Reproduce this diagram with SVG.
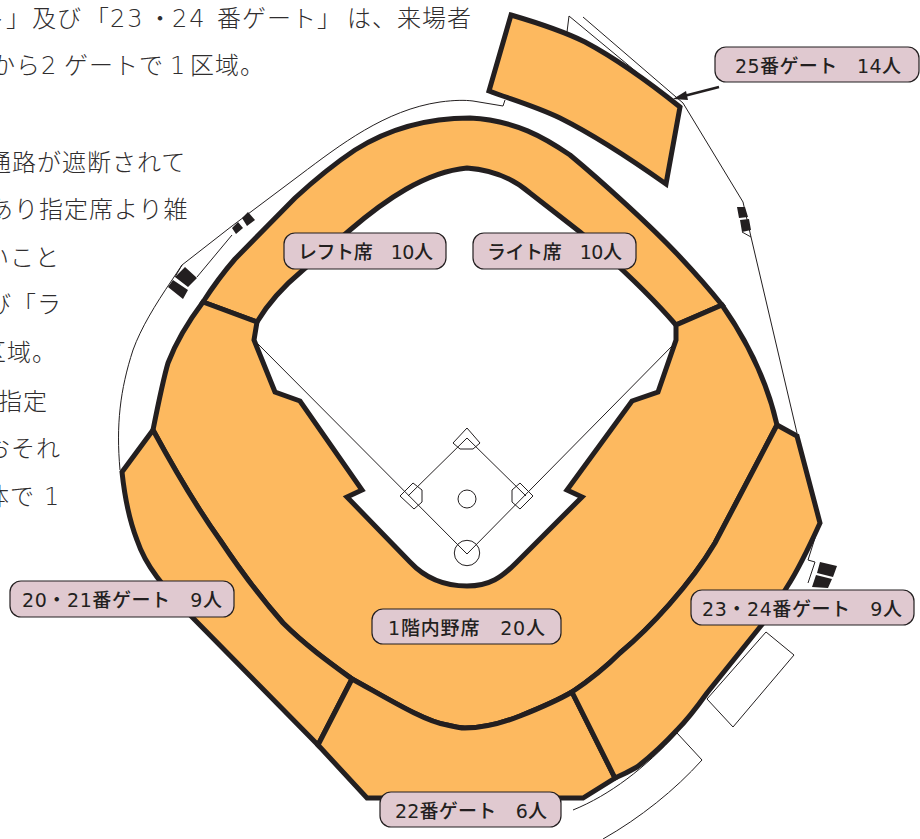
<svg xmlns="http://www.w3.org/2000/svg" width="920" height="839" viewBox="0 0 920 839">
<style>
.t{font-family:"Noto Sans CJK JP","Noto Sans",sans-serif;font-size:24px;font-weight:300;fill:#2f2d2e;letter-spacing:1px}
.d{font-family:"DejaVu Sans","Noto Sans CJK JP",sans-serif;font-weight:200;letter-spacing:2px}
.s{fill:#fdb95f;stroke:#231f20;stroke-width:5;stroke-linejoin:miter}
.l{fill:none;stroke:#231f20;stroke-width:1}
.w{fill:#fff;stroke:#231f20;stroke-width:1}
.b{fill:#231f20}
.p{fill:#e0c9d0;stroke:#231f20;stroke-width:1.2}
.c{font-family:"DejaVu Sans","Noto Sans CJK JP",sans-serif;font-size:19px;font-weight:500;fill:#231f20}
</style>
<g id="copy">
<text class="t" y="26.5"><tspan x="-19">ト」</tspan><tspan x="32">及び</tspan><tspan x="85">「</tspan><tspan class="d" x="110">23</tspan><tspan x="148">・</tspan><tspan class="d" x="172">24</tspan><tspan x="217">番ゲート」</tspan><tspan x="347">は、来場者</tspan></text>
<text class="t" y="74"><tspan x="-9">から</tspan><tspan class="d" x="41">2</tspan><tspan x="64">ゲートで</tspan><tspan class="d" x="170">1</tspan><tspan x="190">区域。</tspan></text>
<text class="t" x="-13" y="171">通路が遮断されて</text>
<text class="t" x="-11" y="218">あり指定席より雑</text>
<text class="t" x="-15" y="266">いこと</text>
<text class="t" x="-13" y="313">び「ラ</text>
<text class="t" x="-18" y="361">区域。</text>
<text class="t" x="-2" y="410">指定</text>
<text class="t" x="-14" y="457">おそれ</text>
<text class="t" y="505"><tspan x="-15">体で</tspan><tspan class="d" x="44">1</tspan></text>
</g>
<g id="site-lines">
<path class="l" d="M120,470C116,425 120,390 133,350C141,328 155,305 172,280L182,265L232,226L300,175C340,145 385,110 440,102C455,100 465,100 473,101L503,106L505,100"/>
<path class="l" d="M175,277L182,265M197,277L232,235"/>
<path class="l" d="M567,32L569,16L639,74V78M583,17L683,103L743,202L751,237L797,433"/>
<path class="l" d="M742,232L751,237"/>
<path class="l" d="M815,538L808,560L815,562L808,583"/>
<path class="w" d="M766,632L794,655L733,727L707,699Z"/>
<path class="l" d="M677,733L702,760C675,790 640,818 603,839"/>
<path class="l" d="M573,810C610,795 645,768 677,733"/>
<g class="b">
<path d="M175,277L185,267L197,278L188,287ZM173,280L168,287L183,299L188,290Z"/>
<path d="M232,228L238,222L243,228L236,234ZM242,218L248,212L255,220L247,226Z"/>
<path d="M737,207L745,207L748,217L739,218ZM740,220L749,219L751,230L742,232Z"/>
<path d="M820,562L837,566L833,577L817,573ZM816,575L832,579L828,588L812,587Z"/>
</g>
</g>
<g id="seat-25"><path class="s" d="M511,15C545,25 565,32 585,42C615,58 650,83 680,107L666,184C625,155 590,133 560,118C535,106 510,99 489,91Z"/></g>
<g id="seat-left-right"><path class="s" d="M203,302C212,288 222,274 235,259L295,198C320,175 340,160 355,150C390,128 430,118 470,118C515,120 545,138 570,155C600,180 650,225 680,257C695,273 710,290 722,305L676,325C650,295 615,262 580,232L530,193C515,180 495,170 467,168C425,172 385,200 350,230L303,270C285,285 270,300 257,322Z"/></g>
<g id="seat-infield"><path class="s" d="M203,302L257,322L254,340L275,392L300,401L362,490L347,497L410,562C425,578 445,586 467,586C490,586 502,577 516,563L582,497L567,490L632,401L658,392L676,340L676,325L722,305C750,345 768,385 777,425L735,505L715,543C690,585 650,628 620,653C605,668 590,680 572,692C555,702 540,708 520,716C505,722 485,728 465,728C460,728 455,727 447,725C425,722 385,697 352,679C330,663 305,645 283,623C260,597 240,570 220,540C195,505 172,465 153,430C158,405 163,380 168,363C176,342 188,322 203,302Z"/></g>
<g id="seat-20-21"><path class="s" d="M153,430L122,472C125,500 130,522 137,540C142,555 148,565 157,577C168,592 180,605 193,618L318,745L352,679C330,663 305,645 283,623C260,597 240,570 220,540C195,505 172,465 153,430Z"/></g>
<g id="seat-22"><path class="s" d="M318,745L367,798H583L615,778L572,692C555,702 540,708 520,716C505,722 485,728 465,728C460,728 455,727 447,725C425,722 385,697 352,679Z"/></g>
<g id="seat-23-24"><path class="s" d="M777,425L797,436L820,523C810,545 800,567 787,587C778,602 770,615 760,627L707,693C697,707 687,720 677,730C665,743 650,757 637,767C630,771 622,775 615,778L572,692C590,680 605,668 620,653C650,628 690,585 715,543L735,505Z"/></g>
<g id="field">
<path class="l" d="M256,342L467,554L676,342"/>
<path class="l" d="M408,496L467,438L526,496"/>
<circle class="l" cx="467" cy="499" r="9"/>
<circle class="l" cx="467" cy="553" r="12.7"/>
<path class="l" d="M467,428L480,443L473,449H460L453,443ZM413,483L422,490V502L414,509L400,496ZM520,483L533,496L520,509L512,502V490Z"/>
</g>
<g id="connectors">
<line x1="719" y1="87" x2="684" y2="96" stroke="#231f20" stroke-width="2.4"/>
<path class="b" d="M673,99L686,91L688,100Z"/>
</g>
<g id="label-left"><rect class="p" x="284" y="233" width="162" height="36" rx="11"/><text class="c" x="298" y="259" textLength="135">レフト席　10人</text></g>
<g id="label-right"><rect class="p" x="473" y="233" width="163" height="36" rx="11"/><text class="c" x="487" y="259" textLength="135">ライト席　10人</text></g>
<g id="label-25"><rect class="p" x="715" y="47" width="204" height="35" rx="11"/><text class="c" x="735" y="73" textLength="166">25番ゲート　14人</text></g>
<g id="label-20-21"><rect class="p" x="10" y="581" width="224" height="36" rx="11"/><text class="c" x="22" y="607" textLength="200">20・21番ゲート　9人</text></g>
<g id="label-infield"><rect class="p" x="372" y="609" width="189" height="35" rx="11"/><text class="c" x="388" y="635" textLength="157">1階内野席　20人</text></g>
<g id="label-23-24"><rect class="p" x="691" y="590" width="223" height="35" rx="11"/><text class="c" x="702" y="616" textLength="200">23・24番ゲート　9人</text></g>
<g id="label-22"><rect class="p" x="380" y="792" width="181" height="35" rx="11"/><text class="c" x="395" y="818" textLength="152">22番ゲート　6人</text></g>
</svg>
